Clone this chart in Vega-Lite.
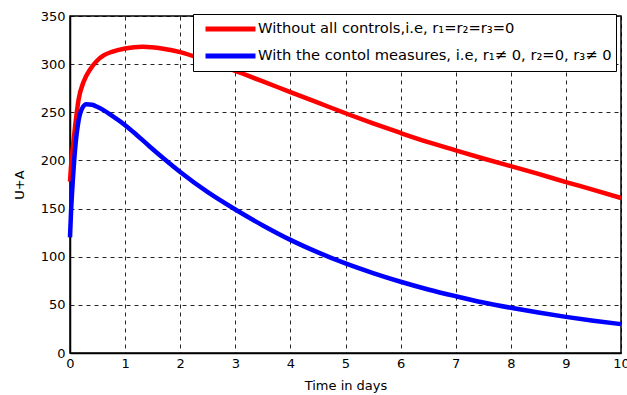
{
  "$schema": "https://vega.github.io/schema/vega-lite/v6.json",
  "width": 551,
  "height": 337,
  "autosize": "none",
  "padding": {"left": 70, "top": 16, "right": 6, "bottom": 42},
  "background": "white",
  "data": {
    "values": [
      {"t": 0, "v": 178, "s": "Without all controls,i.e, r₁=r₂=r₃=0"},
      {"t": 0.02, "v": 195, "s": "Without all controls,i.e, r₁=r₂=r₃=0"},
      {"t": 0.05, "v": 213, "s": "Without all controls,i.e, r₁=r₂=r₃=0"},
      {"t": 0.09, "v": 234, "s": "Without all controls,i.e, r₁=r₂=r₃=0"},
      {"t": 0.155, "v": 263, "s": "Without all controls,i.e, r₁=r₂=r₃=0"},
      {"t": 0.245, "v": 281.5, "s": "Without all controls,i.e, r₁=r₂=r₃=0"},
      {"t": 0.37, "v": 295, "s": "Without all controls,i.e, r₁=r₂=r₃=0"},
      {"t": 0.49, "v": 303.5, "s": "Without all controls,i.e, r₁=r₂=r₃=0"},
      {"t": 0.61, "v": 309, "s": "Without all controls,i.e, r₁=r₂=r₃=0"},
      {"t": 0.76, "v": 312.8, "s": "Without all controls,i.e, r₁=r₂=r₃=0"},
      {"t": 1.0, "v": 316.3, "s": "Without all controls,i.e, r₁=r₂=r₃=0"},
      {"t": 1.32, "v": 318, "s": "Without all controls,i.e, r₁=r₂=r₃=0"},
      {"t": 1.69, "v": 316, "s": "Without all controls,i.e, r₁=r₂=r₃=0"},
      {"t": 2.0, "v": 312.5, "s": "Without all controls,i.e, r₁=r₂=r₃=0"},
      {"t": 2.5, "v": 303, "s": "Without all controls,i.e, r₁=r₂=r₃=0"},
      {"t": 3.0, "v": 293, "s": "Without all controls,i.e, r₁=r₂=r₃=0"},
      {"t": 3.5, "v": 282, "s": "Without all controls,i.e, r₁=r₂=r₃=0"},
      {"t": 4.0, "v": 271, "s": "Without all controls,i.e, r₁=r₂=r₃=0"},
      {"t": 4.5, "v": 260, "s": "Without all controls,i.e, r₁=r₂=r₃=0"},
      {"t": 5.0, "v": 249, "s": "Without all controls,i.e, r₁=r₂=r₃=0"},
      {"t": 5.5, "v": 238.5, "s": "Without all controls,i.e, r₁=r₂=r₃=0"},
      {"t": 6.0, "v": 228.5, "s": "Without all controls,i.e, r₁=r₂=r₃=0"},
      {"t": 6.5, "v": 219, "s": "Without all controls,i.e, r₁=r₂=r₃=0"},
      {"t": 7.0, "v": 210.5, "s": "Without all controls,i.e, r₁=r₂=r₃=0"},
      {"t": 7.5, "v": 202, "s": "Without all controls,i.e, r₁=r₂=r₃=0"},
      {"t": 8.0, "v": 194, "s": "Without all controls,i.e, r₁=r₂=r₃=0"},
      {"t": 8.5, "v": 186, "s": "Without all controls,i.e, r₁=r₂=r₃=0"},
      {"t": 9.0, "v": 177.5, "s": "Without all controls,i.e, r₁=r₂=r₃=0"},
      {"t": 9.5, "v": 169.5, "s": "Without all controls,i.e, r₁=r₂=r₃=0"},
      {"t": 10, "v": 161, "s": "Without all controls,i.e, r₁=r₂=r₃=0"},
      {"t": 0, "v": 120, "s": "With the contol measures, i.e, r₁≠ 0, r₂=0, r₃≠ 0"},
      {"t": 0.02, "v": 148, "s": "With the contol measures, i.e, r₁≠ 0, r₂=0, r₃≠ 0"},
      {"t": 0.05, "v": 178, "s": "With the contol measures, i.e, r₁≠ 0, r₂=0, r₃≠ 0"},
      {"t": 0.09, "v": 210, "s": "With the contol measures, i.e, r₁≠ 0, r₂=0, r₃≠ 0"},
      {"t": 0.155, "v": 241, "s": "With the contol measures, i.e, r₁≠ 0, r₂=0, r₃≠ 0"},
      {"t": 0.215, "v": 253.5, "s": "With the contol measures, i.e, r₁≠ 0, r₂=0, r₃≠ 0"},
      {"t": 0.3, "v": 258.3, "s": "With the contol measures, i.e, r₁≠ 0, r₂=0, r₃≠ 0"},
      {"t": 0.4, "v": 257.8, "s": "With the contol measures, i.e, r₁≠ 0, r₂=0, r₃≠ 0"},
      {"t": 0.5, "v": 255.5, "s": "With the contol measures, i.e, r₁≠ 0, r₂=0, r₃≠ 0"},
      {"t": 0.6, "v": 252.5, "s": "With the contol measures, i.e, r₁≠ 0, r₂=0, r₃≠ 0"},
      {"t": 0.76, "v": 246.5, "s": "With the contol measures, i.e, r₁≠ 0, r₂=0, r₃≠ 0"},
      {"t": 1.0, "v": 236.6, "s": "With the contol measures, i.e, r₁≠ 0, r₂=0, r₃≠ 0"},
      {"t": 1.2, "v": 227, "s": "With the contol measures, i.e, r₁≠ 0, r₂=0, r₃≠ 0"},
      {"t": 1.445, "v": 214.5, "s": "With the contol measures, i.e, r₁≠ 0, r₂=0, r₃≠ 0"},
      {"t": 1.7, "v": 202, "s": "With the contol measures, i.e, r₁≠ 0, r₂=0, r₃≠ 0"},
      {"t": 2.0, "v": 188, "s": "With the contol measures, i.e, r₁≠ 0, r₂=0, r₃≠ 0"},
      {"t": 2.5, "v": 167, "s": "With the contol measures, i.e, r₁≠ 0, r₂=0, r₃≠ 0"},
      {"t": 3.0, "v": 149, "s": "With the contol measures, i.e, r₁≠ 0, r₂=0, r₃≠ 0"},
      {"t": 3.5, "v": 132.5, "s": "With the contol measures, i.e, r₁≠ 0, r₂=0, r₃≠ 0"},
      {"t": 4.0, "v": 117.5, "s": "With the contol measures, i.e, r₁≠ 0, r₂=0, r₃≠ 0"},
      {"t": 4.5, "v": 104.5, "s": "With the contol measures, i.e, r₁≠ 0, r₂=0, r₃≠ 0"},
      {"t": 5.0, "v": 93, "s": "With the contol measures, i.e, r₁≠ 0, r₂=0, r₃≠ 0"},
      {"t": 5.5, "v": 83, "s": "With the contol measures, i.e, r₁≠ 0, r₂=0, r₃≠ 0"},
      {"t": 6.0, "v": 74, "s": "With the contol measures, i.e, r₁≠ 0, r₂=0, r₃≠ 0"},
      {"t": 6.5, "v": 66, "s": "With the contol measures, i.e, r₁≠ 0, r₂=0, r₃≠ 0"},
      {"t": 7.0, "v": 59, "s": "With the contol measures, i.e, r₁≠ 0, r₂=0, r₃≠ 0"},
      {"t": 7.5, "v": 52.5, "s": "With the contol measures, i.e, r₁≠ 0, r₂=0, r₃≠ 0"},
      {"t": 8.0, "v": 47, "s": "With the contol measures, i.e, r₁≠ 0, r₂=0, r₃≠ 0"},
      {"t": 8.5, "v": 42, "s": "With the contol measures, i.e, r₁≠ 0, r₂=0, r₃≠ 0"},
      {"t": 9.0, "v": 37.5, "s": "With the contol measures, i.e, r₁≠ 0, r₂=0, r₃≠ 0"},
      {"t": 9.5, "v": 33.5, "s": "With the contol measures, i.e, r₁≠ 0, r₂=0, r₃≠ 0"},
      {"t": 10, "v": 30, "s": "With the contol measures, i.e, r₁≠ 0, r₂=0, r₃≠ 0"}
    ]
  },
  "mark": {"type": "line", "strokeWidth": 4.5, "interpolate": "monotone"},
  "encoding": {
    "x": {
      "field": "t",
      "type": "quantitative",
      "scale": {"domain": [0, 10], "nice": false, "zero": false},
      "axis": {
        "title": "Time in days",
        "values": [0, 1, 2, 3, 4, 5, 6, 7, 8, 9, 10],
        "format": "d",
        "labelFlush": false,
        "labelPadding": 4,
        "titlePadding": 9
      }
    },
    "y": {
      "field": "v",
      "type": "quantitative",
      "scale": {"domain": [0, 350], "nice": false},
      "axis": {
        "title": "U+A",
        "values": [0, 50, 100, 150, 200, 250, 300, 350],
        "labelFlush": false,
        "labelPadding": 5,
        "titlePadding": 14
      }
    },
    "color": {
      "field": "s",
      "type": "nominal",
      "sort": null,
      "scale": {
        "domain": ["Without all controls,i.e, r₁=r₂=r₃=0", "With the contol measures, i.e, r₁≠ 0, r₂=0, r₃≠ 0"],
        "range": ["#ff0000", "#0000ff"]
      },
      "legend": {
        "title": null,
        "orient": "none",
        "legendX": 123,
        "legendY": -2,
        "padding": 4,
        "symbolType": "stroke",
        "symbolSize": 2500,
        "symbolStrokeWidth": 5,
        "symbolOffset": 6,
        "labelOffset": 0,
        "clipHeight": 22,
        "rowPadding": 5,
        "labelFontSize": 14.7,
        "labelColor": "black",
        "labelFont": "DejaVu Sans",
        "labelLimit": 0,
        "fillColor": "white",
        "strokeColor": "black"
      }
    }
  },
  "config": {
    "font": "DejaVu Sans",
    "view": {"stroke": "black", "strokeWidth": 1.5},
    "axis": {
      "domainColor": "black",
      "domainWidth": 1.5,
      "ticks": false,
      "grid": true,
      "gridColor": "black",
      "gridOpacity": 0.85,
      "gridDash": [4, 4],
      "gridWidth": 1,
      "labelFont": "DejaVu Sans",
      "labelFontSize": 13,
      "labelColor": "black",
      "titleFont": "DejaVu Sans",
      "titleFontSize": 13,
      "titleFontWeight": "normal",
      "titleColor": "black"
    }
  }
}
